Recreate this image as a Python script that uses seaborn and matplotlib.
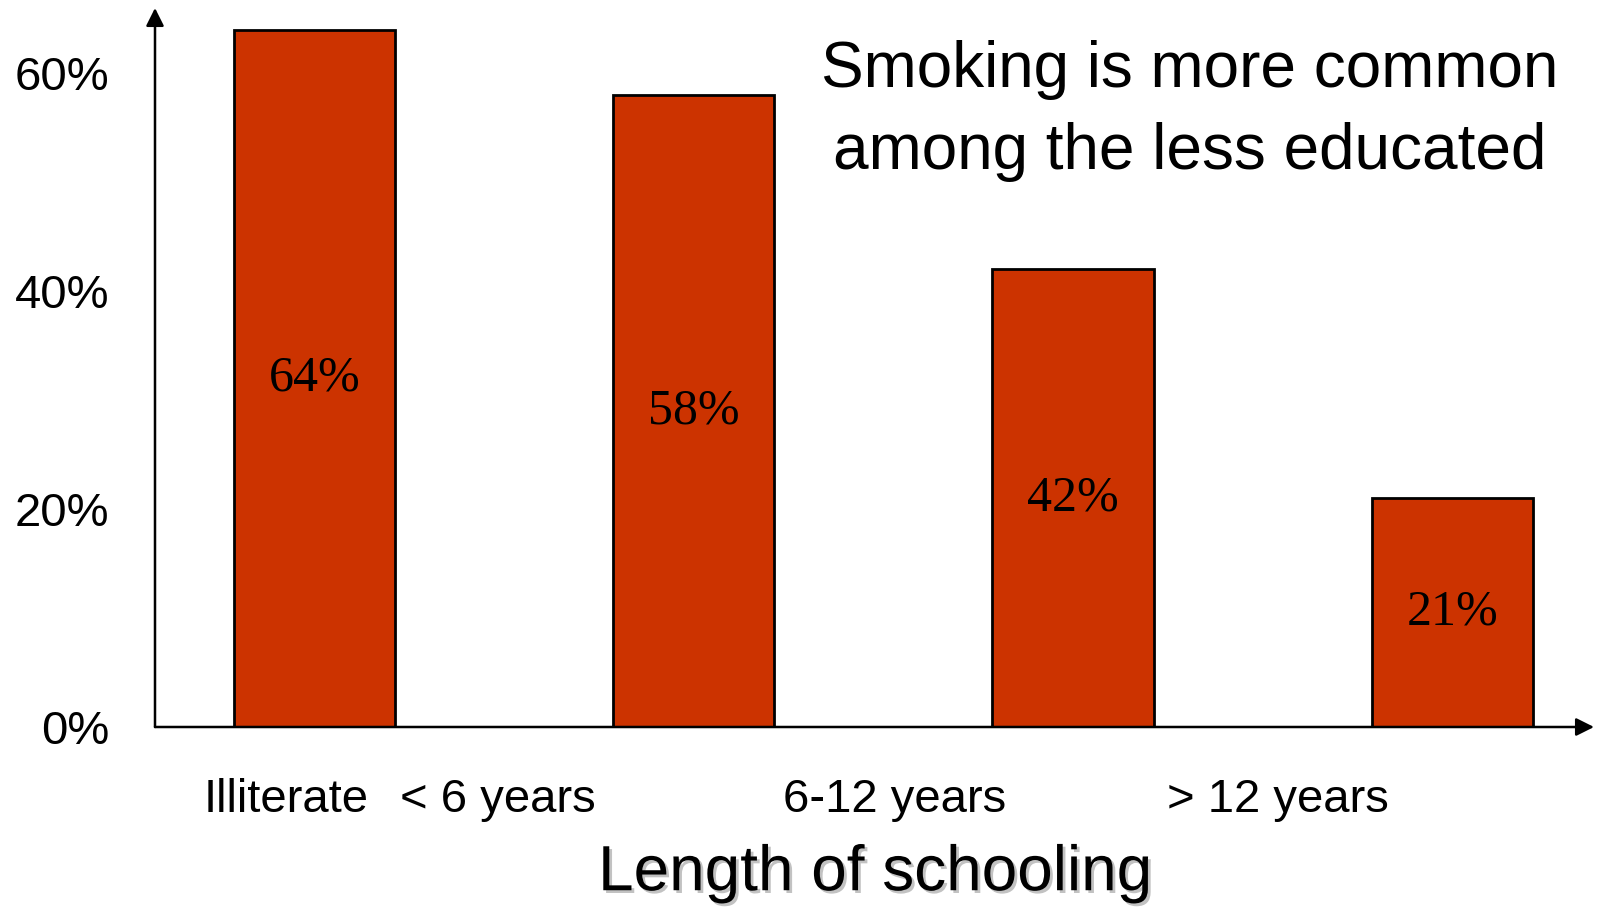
import matplotlib
matplotlib.use("Agg")
import matplotlib.pyplot as plt
import matplotlib.patheffects as pe
from matplotlib.transforms import ScaledTranslation
import seaborn as sns
import pandas as pd

# Share of smokers by length of schooling
schooling = ["Illiterate", "< 6 years", "6-12 years", "> 12 years"]
smokers_pct = [64, 58, 42, 21]
y_ticks = [0, 20, 40, 60]

title_text = "Smoking is more common\namong the less educated"
x_title = "Length of schooling"

BAR_RED = "#CC3300"

sns.set_style("white")
plt.rcParams["font.family"] = ["Liberation Sans", "DejaVu Sans"]
plt.rcParams.update({"text.color": "black", "axes.labelcolor": "black",
                     "xtick.color": "black", "ytick.color": "black"})

df = pd.DataFrame({"schooling": schooling, "pct": smokers_pct})

fig = plt.figure(figsize=(15.97, 9.08), dpi=100)
ax = fig.add_axes([155 / 1597, 1 - 727 / 908, 1439 / 1597, 719 / 908])

sns.barplot(data=df, x="schooling", y="pct", color=BAR_RED, saturation=1,
            edgecolor="black", linewidth=2, width=0.425, ax=ax)

ax.set_xlim(-0.421, 3.374)
ax.set_ylim(0, 66)

# value labels inside the bars
ax.bar_label(ax.containers[0], labels=[f"{v}%" for v in smokers_pct],
             label_type="center", fontsize=36,
             family=["Liberation Serif", "DejaVu Serif"], color="black")

# axes drawn as arrows
for s in ax.spines.values():
    s.set_visible(False)
arrow = dict(arrowstyle="-|>", color="black", lw=1.8, mutation_scale=27,
             shrinkA=0, shrinkB=0)
ax.annotate("", xy=(0, 1), xytext=(0, 0), xycoords="axes fraction",
            arrowprops=arrow)
ax.annotate("", xy=(1, 0), xytext=(0, 0), xycoords="axes fraction",
            arrowprops=arrow)

ax.set_yticks(y_ticks)
ax.set_yticklabels([f"{t}%" for t in y_ticks], fontsize=34)
ax.tick_params(axis="y", length=0, pad=33)

ax.set_xticks(range(len(schooling)))
ax.set_xticklabels(schooling, fontsize=34)
ax.tick_params(axis="x", length=0, pad=37)
label_shift_px = [-29, -196, -178, -174]
for lab, dx in zip(ax.get_xticklabels(), label_shift_px):
    lab.set_transform(lab.get_transform() +
                      ScaledTranslation(dx / fig.dpi, 0, fig.dpi_scale_trans))

ax.set_xlabel(x_title, fontsize=46, labelpad=15)
ax.xaxis.label.set_path_effects([
    pe.SimplePatchShadow(offset=(2, -2), shadow_rgbFace="#9a9a9a", alpha=0.6),
    pe.Normal()])
ax.set_ylabel("")

fig.text(1190 / 1597, 1 - 40 / 908, title_text, ha="center", va="top",
         fontsize=46, linespacing=1.47, multialignment="center")

fig.savefig("out.png", dpi=100)
